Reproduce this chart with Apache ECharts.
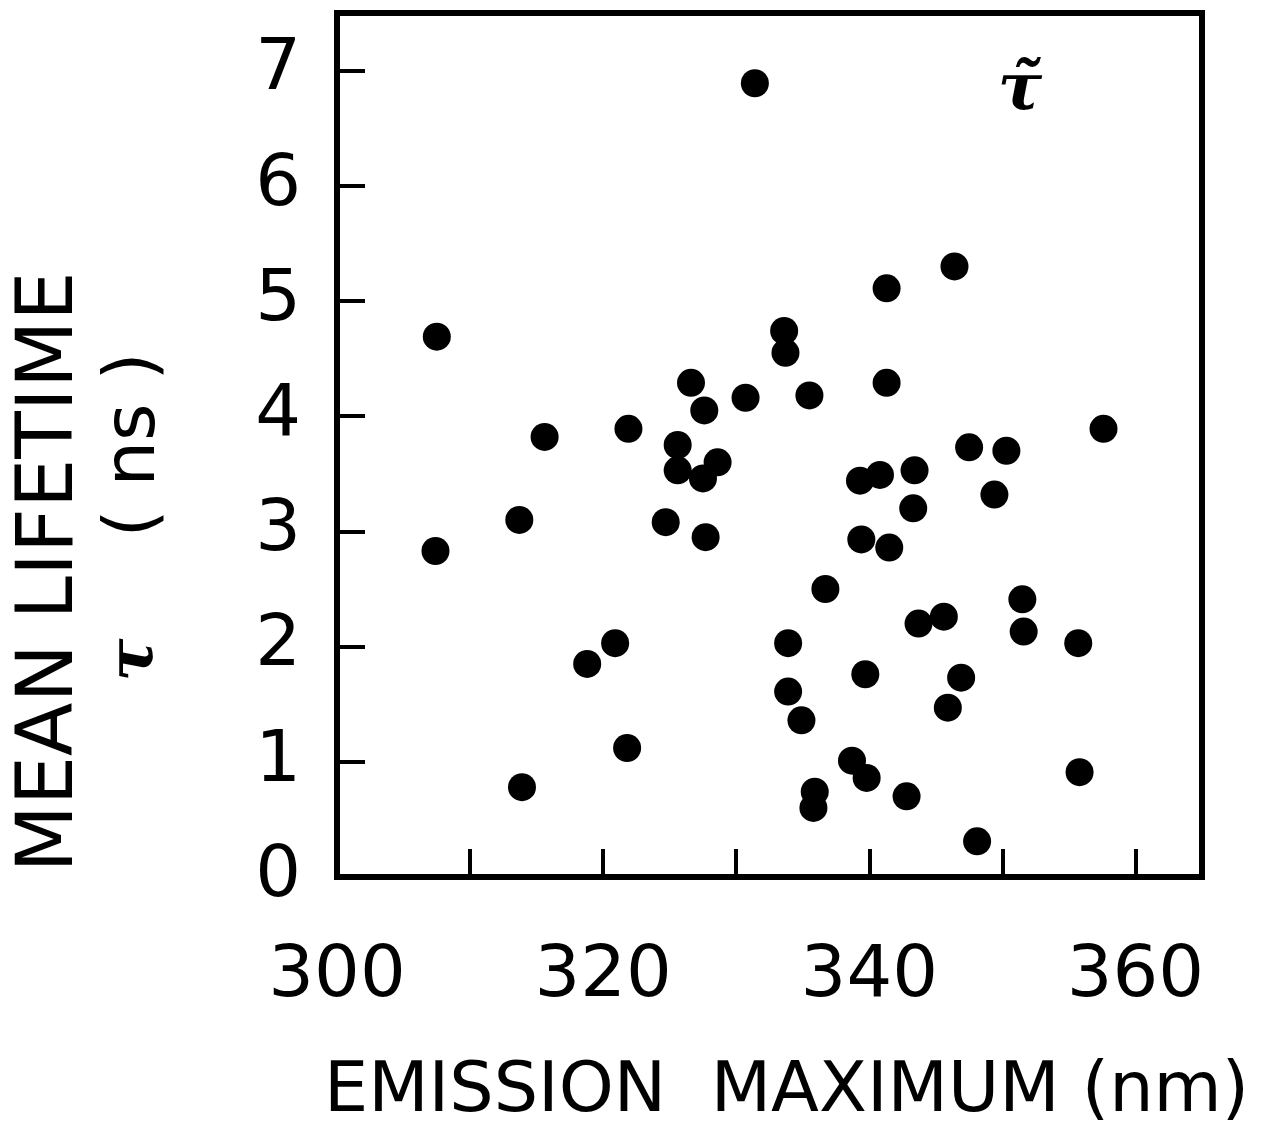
<!DOCTYPE html>
<html>
<head>
<meta charset="utf-8">
<script src="https://cdn.jsdelivr.net/npm/echarts@6/dist/echarts.min.js"></script>
<style>
  html, body { margin: 0; padding: 0; background: #fff; }
  #chart { width: 1267px; height: 1128px; }
</style>
</head>
<body>
<div id="chart"></div>
<script>
// emission maximum (nm) of each protein
const emission = [
  307.5, 307.4, 313.7, 313.9, 315.6, 318.8, 320.9, 321.8, 321.9, 324.7,
  325.6, 325.6, 326.6, 327.5, 327.6, 327.7, 328.6, 330.7, 331.4, 333.6,
  333.7, 335.5, 333.9, 333.9, 334.9, 336.7, 335.9, 335.8, 338.7, 339.8,
  339.7, 339.3, 340.8, 339.4, 341.5, 341.3, 341.3, 342.8, 343.4, 343.3,
  343.7, 345.6, 345.9, 346.9, 346.4, 347.5, 348.1, 349.4, 350.3, 351.5,
  351.6, 355.7, 355.8, 357.6
];
// mean lifetime tau (ns)
const lifetime = [
  4.69, 2.83, 3.10, 0.78, 3.82, 1.85, 2.03, 1.12, 3.89, 3.08,
  3.75, 3.53, 4.29, 3.46, 4.05, 2.95, 3.60, 4.16, 6.89, 4.74,
  4.55, 4.18, 2.03, 1.61, 1.36, 2.50, 0.74, 0.60, 1.01, 0.86,
  1.76, 3.44, 3.49, 2.93, 2.86, 5.11, 4.29, 0.70, 3.53, 3.20,
  2.20, 2.26, 1.47, 1.73, 5.30, 3.73, 0.31, 3.32, 3.70, 2.41,
  2.13, 2.03, 0.91, 3.89
];
const xTickLabels = [300, 320, 340, 360];
const yTickLabels = [0, 1, 2, 3, 4, 5, 6, 7];

const points = emission.map((x, i) => [x, lifetime[i]]);

const chart = echarts.init(document.getElementById('chart'));

const axisFont = '"DejaVu Sans", sans-serif';

const option = {
  animation: false,
  backgroundColor: '#fff',
  grid: {
    left: 337, right: 65, top: 13, bottom: 251,
    show: true, borderColor: '#000', borderWidth: 6,
    outerBoundsMode: 'none'
  },
  xAxis: {
    type: 'value',
    min: 300, max: 365, interval: 10,
    name: 'EMISSION  MAXIMUM (nm)',
    nameLocation: 'middle',
    nameGap: 181,
    nameTextStyle: { fontFamily: axisFont, fontSize: 70, color: '#000', padding: [0, 0, 0, 34] },
    axisLine: { show: true, lineStyle: { color: '#000', width: 6 } },
    axisTick: { show: true, inside: true, length: 28, lineStyle: { color: '#000', width: 4 } },
    axisLabel: {
      margin: 64, fontFamily: axisFont, fontSize: 72, color: '#000',
      formatter: v => xTickLabels.includes(v) ? String(v) : ''
    },
    splitLine: { show: false }
  },
  yAxis: {
    type: 'value',
    min: 0, max: 7.5, interval: 1,
    axisLine: { show: true, lineStyle: { color: '#000', width: 6 } },
    axisTick: { show: true, inside: true, length: 28, lineStyle: { color: '#000', width: 4 } },
    axisLabel: {
      margin: 36, fontFamily: axisFont, fontSize: 72, color: '#000',
      formatter: v => yTickLabels.includes(v) ? String(v) : ''
    },
    splitLine: { show: false }
  },
  graphic: [
    {
      type: 'text', x: 52, y: 572, rotation: Math.PI / 2,
      style: { text: 'MEAN LIFETIME', font: '78px "DejaVu Sans"', fill: '#000', align: 'center', verticalAlign: 'middle' }
    },
    {
      type: 'text', x: 135, y: 445, rotation: Math.PI / 2,
      style: { text: '( ns )', font: '72px "DejaVu Sans"', fill: '#000', align: 'center', verticalAlign: 'middle' }
    },
    {
      type: 'text', x: 135, y: 660, rotation: Math.PI / 2,
      style: { text: 'τ', font: 'italic bold 64px "DejaVu Serif"', fill: '#000', align: 'center', verticalAlign: 'middle' }
    },
    {
      type: 'text', x: 1020, y: 92,
      style: { text: 'τ\u0303', font: 'italic bold 66px "DejaVu Serif"', fill: '#000', align: 'center', verticalAlign: 'middle' }
    }
  ],
  series: [{
    type: 'scatter',
    data: points,
    symbol: 'circle',
    symbolSize: 28,
    itemStyle: { color: '#000', opacity: 1 }
  }]
};

chart.setOption(option);
</script>
</body>
</html>
